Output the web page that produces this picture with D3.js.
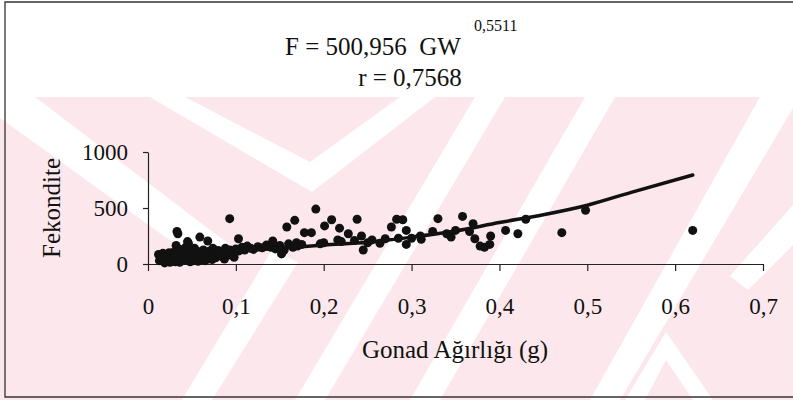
<!DOCTYPE html>
<html>
<head>
<meta charset="utf-8">
<script src="https://cdn.jsdelivr.net/npm/d3@7"></script>
<style>
  body { margin: 0; background: #fff; }
  svg text { font-family: "Liberation Serif", "Times New Roman", Tinos, "DejaVu Serif", serif !important; fill: #111; }
</style>
</head>
<body>
<div id="chart"></div>
<script>
// gonad weight (g) and fecundity
const gw = [0.012, 0.014, 0.015, 0.017, 0.018, 0.02, 0.021, 0.022, 0.024, 0.025, 0.026, 0.028, 0.029, 0.03,
  0.031, 0.033, 0.034, 0.035, 0.037, 0.038, 0.039, 0.04, 0.042, 0.043, 0.044, 0.046, 0.047, 0.049, 0.05,
  0.052, 0.053, 0.055, 0.056, 0.058, 0.06, 0.061, 0.063, 0.064, 0.066, 0.068, 0.07, 0.072, 0.074, 0.076,
  0.078, 0.08, 0.082, 0.085, 0.088, 0.09, 0.093, 0.096, 0.1, 0.103, 0.107, 0.11, 0.113, 0.117, 0.12, 0.125,
  0.13, 0.135, 0.14, 0.145, 0.15, 0.155, 0.16, 0.165, 0.17, 0.175,
  0.013, 0.016, 0.019, 0.023, 0.027, 0.032, 0.036, 0.041, 0.045, 0.048, 0.051, 0.054, 0.057, 0.062,
  0.065, 0.069, 0.073, 0.077, 0.083, 0.087, 0.092, 0.098,
  0.033, 0.034, 0.032, 0.046, 0.045, 0.059, 0.068, 0.093, 0.103,
  0.142, 0.152, 0.158, 0.167, 0.169, 0.178, 0.186, 0.191, 0.196, 0.201, 0.209, 0.216, 0.218, 0.228, 0.238,
  0.243, 0.245, 0.25, 0.264, 0.277, 0.283, 0.29, 0.294, 0.294, 0.3, 0.311, 0.324, 0.33, 0.345, 0.358, 0.366,
  0.37, 0.372, 0.378, 0.383, 0.389, 0.39, 0.407, 0.421, 0.43, 0.471, 0.498, 0.62,
  0.2, 0.22, 0.235, 0.255, 0.27, 0.285, 0.31, 0.34, 0.35];
const fek = [85, 70, 45, 95, 25, 60, 80, 35, 100, 15, 55, 75, 40, 110,
  20, 65, 90, 45, 130, 70, 30, 100, 55, 150, 80, 40, 115, 65, 95,
  30, 140, 75, 50, 110, 85, 35, 125, 60, 95, 45, 115, 80, 140, 100,
  70, 120, 90, 110, 140, 95, 125, 105, 135, 115, 150, 125, 160, 140, 130, 155,
  145, 170, 150, 135, 165, 125, 180, 150, 160, 175,
  30, 50, 10, 65, 25, 120, 15, 35, 60, 20, 50, 100, 25, 55,
  30, 80, 40, 55, 70, 45, 80, 60,
  290, 270, 165, 185, 200, 240, 205, 405, 225,
  205, 90, 330, 390, 190, 280, 280, 490, 180, 340, 395, 215, 320, 270, 400,
  250, 125, 190, 185, 330, 400, 395, 300, 175, 230, 220, 290, 405, 240, 425, 290,
  360, 225, 160, 150, 175, 250, 300, 270, 400, 280, 480, 300,
  190, 200, 210, 215, 225, 230, 250, 270, 300];

// fitted curve as drawn
const fitX = [0.012, 0.05, 0.1, 0.15, 0.2, 0.25, 0.3, 0.35, 0.4, 0.45, 0.5, 0.55, 0.62];
const fitY = [75, 90, 115, 140, 170, 195, 240, 295, 370, 440, 525, 640, 795];

const xTicks = [0, 0.1, 0.2, 0.3, 0.4, 0.5, 0.6, 0.7];
const yTicks = [0, 500, 1000];

const width = 793, height = 400;
const svg = d3.select("#chart").append("svg")
  .attr("width", width).attr("height", height);

// faint pink watermark from the scan
const wm = svg.append("g");
wm.append("rect").attr("x", 0).attr("y", 97).attr("width", width).attr("height", 303).attr("fill", "#fce8ec");
const stripes = [
  [[0, 97], [35, 97], [230, 245], [200, 262], [0, 118]],
  [[150, 97], [185, 97], [310, 162], [400, 97], [435, 97], [312, 192]],
  [[475, 97], [505, 97], [325, 400], [295, 400]],
  [[585, 97], [615, 97], [440, 400], [410, 400]],
  [[760, 97], [793, 97], [793, 108], [620, 400], [590, 400]],
  [[272, 250], [298, 262], [212, 400], [182, 400]],
  [[666, 332], [713, 400], [693, 400], [666, 360], [645, 400], [625, 400]],
  [[793, 205], [793, 245], [748, 290], [730, 276]]
];
wm.selectAll("polygon").data(stripes).enter().append("polygon")
  .attr("points", d => d.map(p => p.join(",")).join(" "))
  .attr("fill", "#fff");

// outer frame
svg.append("path")
  .attr("d", "M793,2 L5,2 L5,397 L793,397")
  .attr("fill", "none").attr("stroke", "#333").attr("stroke-width", 1.3);

const x = d3.scaleLinear().domain([0, 0.7]).range([148, 763]);
const y = d3.scaleLinear().domain([0, 1000]).range([264, 152]);
const fmt = d => d === 0 ? "0" : d3.format(".1f")(d).replace(".", ",");

const xAxis = svg.append("g").attr("transform", "translate(0,264)")
  .call(d3.axisBottom(x).tickValues(xTicks).tickSize(7).tickSizeOuter(0).tickPadding(27).tickFormat(fmt));
const yAxis = svg.append("g").attr("transform", "translate(148,0)")
  .call(d3.axisLeft(y).tickValues(yTicks).tickSize(5).tickSizeOuter(0).tickPadding(15).tickFormat(d => d));

[xAxis, yAxis].forEach(a => {
  a.attr("font-family", null);
  a.selectAll("path, line").attr("stroke", "#222").attr("stroke-width", 1.2);
  a.selectAll("text").style("font-size", "23px").attr("fill", "#111");
});

// points
svg.append("g").selectAll("circle")
  .data(gw.map((v, i) => [v, fek[i]]))
  .enter().append("circle")
  .attr("cx", d => x(d[0])).attr("cy", d => y(d[1]))
  .attr("r", 4.5).attr("fill", "#111");

// fitted line
svg.append("path")
  .datum(fitX.map((v, i) => [v, fitY[i]]))
  .attr("d", d3.line().x(d => x(d[0])).y(d => y(d[1])).curve(d3.curveMonotoneX))
  .attr("fill", "none").attr("stroke", "#111").attr("stroke-width", 3.5).attr("stroke-linecap", "round");

// labels
svg.append("text").attr("x", 285).attr("y", 55).style("font-size", "25px").style("white-space", "pre")
  .text("F = 500,956  GW");
svg.append("text").attr("x", 474).attr("y", 31).style("font-size", "16px").text("0,5511");
svg.append("text").attr("x", 410).attr("y", 86).attr("text-anchor", "middle").style("font-size", "25px")
  .text("r = 0,7568");

svg.append("text").attr("x", 455).attr("y", 358).attr("text-anchor", "middle").style("font-size", "25px")
  .text("Gonad Ağırlığı (g)");
svg.append("text").attr("transform", "translate(60,208) rotate(-90)").attr("text-anchor", "middle")
  .style("font-size", "25px").text("Fekondite");
</script>
</body>
</html>
